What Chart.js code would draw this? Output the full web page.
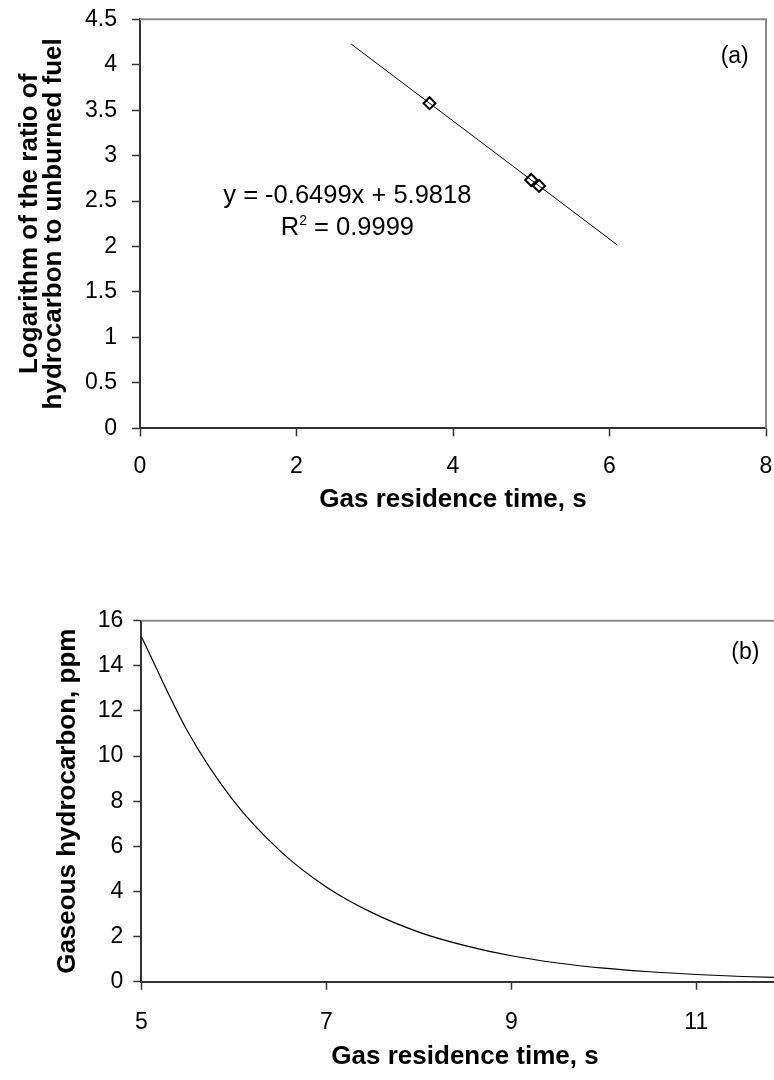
<!DOCTYPE html>
<html><head><meta charset="utf-8">
<script src="https://cdn.jsdelivr.net/npm/chart.js@4.4.1/dist/chart.umd.min.js"></script>
<style>
html,body{margin:0;padding:0;background:#fff;overflow:hidden;width:774px;height:1080px;}
#a{position:absolute;left:0;top:0;}
#b{position:absolute;left:0;top:540px;}
</style></head><body>
<canvas id="a" width="774" height="520"></canvas>
<canvas id="b" width="790" height="540"></canvas>
<script>
// ---- data (a) ----
const timeA = [3.7, 5.0, 5.1];
const logRatioA = [3.577, 2.732, 2.667];
const trendX = [2.7, 6.1];
const trendY = [4.227, 2.017];
const xTicksA = [0, 2, 4, 6, 8];
const yTicksA = [0, 0.5, 1, 1.5, 2, 2.5, 3, 3.5, 4, 4.5];
const eqText = 'y = -0.6499x + 5.9818';
const r2Value = '0.9999';
// ---- data (b) ----
const timeB = [5, 5.5, 6, 6.5, 7, 7.5, 8, 8.5, 9, 9.5, 10, 10.5, 11, 11.5, 12];
const hcB = [15.3, 11.1, 8.0, 5.8, 4.2, 3.05, 2.2, 1.6, 1.15, 0.83, 0.6, 0.44, 0.32, 0.23, 0.17];
const xTicksB = [5, 7, 9, 11];
const yTicksB = [0, 2, 4, 6, 8, 10, 12, 14, 16];

Chart.defaults.font.family = "'Liberation Sans', Arial, sans-serif";
Chart.defaults.color = '#000';
Chart.defaults.animation = false;

const FONT = "'Liberation Sans', Arial, sans-serif";

const frame = {
  id: 'frame',
  afterDraw(c) {
    const {ctx, chartArea: a} = c;
    ctx.save();
    ctx.strokeStyle = '#8a8a8a';
    ctx.lineWidth = 2;
    ctx.beginPath();
    ctx.moveTo(a.left, a.top);
    ctx.lineTo(a.right, a.top);
    ctx.lineTo(a.right, a.bottom);
    ctx.stroke();
    ctx.restore();
  }
};

const notes = {
  id: 'notes',
  afterDraw(c, args, o) {
    const {ctx} = c;
    const xs = c.scales.x, ys = c.scales.y;
    ctx.save();
    ctx.fillStyle = '#000';
    ctx.textBaseline = 'middle';
    (o.items || []).forEach(it => {
      const px = xs.getPixelForValue(it.x), py = ys.getPixelForValue(it.y);
      if (it.r2) {
        ctx.font = it.size + 'px ' + FONT;
        const wR = ctx.measureText('R').width;
        const rest = ' = ' + it.r2;
        const wRest = ctx.measureText(rest).width;
        ctx.font = it.supSize + 'px ' + FONT;
        const wS = ctx.measureText('2').width;
        let x0 = px - (wR + wS + wRest) / 2;
        ctx.textAlign = 'left';
        ctx.font = it.size + 'px ' + FONT;
        ctx.fillText('R', x0, py);
        ctx.font = it.supSize + 'px ' + FONT;
        ctx.fillText('2', x0 + wR, py - 7);
        ctx.font = it.size + 'px ' + FONT;
        ctx.fillText(rest, x0 + wR + wS, py);
      } else {
        ctx.textAlign = 'center';
        ctx.font = it.size + 'px ' + FONT;
        ctx.fillText(it.text, px, py);
      }
    });
    ctx.restore();
  }
};

function gridOpts() {
  return {drawOnChartArea: false, drawTicks: true, tickLength: 8, tickColor: '#333', tickWidth: 1.5, color: '#333'};
}
function borderOpts() {
  return {display: true, color: '#333', width: 2};
}
const plain = v => String(v);

// ---- chart (a) ----
new Chart(document.getElementById('a'), {
  type: 'scatter',
  data: {
    datasets: [
      {
        data: trendX.map((x, i) => ({x, y: trendY[i]})),
        showLine: true, borderColor: '#000', borderWidth: 1, pointRadius: 0, fill: false
      },
      {
        data: timeA.map((x, i) => ({x, y: logRatioA[i]})),
        pointStyle: 'rectRot', pointRadius: 6, pointBorderWidth: 2,
        pointBorderColor: '#000', pointBackgroundColor: '#fff', showLine: false
      }
    ]
  },
  options: {
    responsive: false,
    layout: {padding: {top: 19.3, right: 8, left: 0, bottom: 0}},
    plugins: {
      legend: {display: false}, tooltip: {enabled: false},
      notes: {items: [
        {text: '(a)', x: 7.6, y: 4.09, size: 23},
        {text: eqText, x: 2.65, y: 2.56, size: 25.5},
        {r2: r2Value, x: 2.65, y: 2.2, size: 25.5, supSize: 14}
      ]}
    },
    scales: {
      x: {
        type: 'linear', min: 0, max: 8,
        afterBuildTicks: s => { s.ticks = xTicksA.map(v => ({value: v})); },
        afterFit: s => { s.height = 91.7; s.paddingLeft = 0; s.paddingRight = 0; },
        grid: gridOpts(), border: borderOpts(),
        ticks: {color: '#000', font: {size: 23}, padding: 16.6, maxRotation: 0, autoSkip: false, callback: plain},
        title: {display: true, text: 'Gas residence time, s', color: '#000',
                font: {size: 26, weight: 'bold'}, padding: {top: 0, bottom: 4.4}}
      },
      y: {
        type: 'linear', min: 0, max: 4.5,
        afterBuildTicks: s => { s.ticks = yTicksA.map(v => ({value: v})); },
        afterFit: s => { s.width = 140; s.paddingTop = 0; s.paddingBottom = 0; },
        grid: gridOpts(), border: borderOpts(),
        ticks: {color: '#000', font: {size: 23}, padding: 15, autoSkip: false, callback: plain},
        title: {display: true, text: ['Logarithm of the ratio of', 'hydrocarbon to unburned fuel'], color: '#000',
                font: {size: 26, weight: 'bold', lineHeight: '24px'}, padding: {top: 18, bottom: 0}}
      }
    }
  },
  plugins: [frame, notes]
});

// ---- chart (b) ----
new Chart(document.getElementById('b'), {
  type: 'scatter',
  data: {
    datasets: [
      {
        data: timeB.map((x, i) => ({x, y: hcB[i]})),
        showLine: true, borderColor: '#000', borderWidth: 1.2, pointRadius: 0, fill: false,
        cubicInterpolationMode: 'monotone'
      }
    ]
  },
  options: {
    responsive: false,
    layout: {padding: {top: 80.7, right: 1.2, left: 0, bottom: 0}},
    plugins: {
      legend: {display: false}, tooltip: {enabled: false},
      notes: {items: [
        {text: '(b)', x: 11.53, y: 14.57, size: 23}
      ]}
    },
    scales: {
      x: {
        type: 'linear', min: 5, max: 12,
        afterBuildTicks: s => { s.ticks = xTicksB.map(v => ({value: v})); },
        afterFit: s => { s.height = 98.3; s.paddingLeft = 0; s.paddingRight = 0; },
        grid: gridOpts(), border: borderOpts(),
        ticks: {color: '#000', font: {size: 23}, padding: 19.2, maxRotation: 0, autoSkip: false, callback: plain},
        title: {display: true, text: 'Gas residence time, s', color: '#000',
                font: {size: 26, weight: 'bold'}, padding: {top: 0, bottom: 7.7}}
      },
      y: {
        type: 'linear', min: 0, max: 16,
        afterBuildTicks: s => { s.ticks = yTicksB.map(v => ({value: v})); },
        afterFit: s => { s.width = 141.3; s.paddingTop = 0; s.paddingBottom = 0; },
        grid: gridOpts(), border: borderOpts(),
        ticks: {color: '#000', font: {size: 23}, padding: 10, autoSkip: false, callback: plain},
        title: {display: true, text: 'Gaseous hydrocarbon, ppm', color: '#000',
                font: {size: 26, weight: 'bold', lineHeight: '24px'}, padding: {top: 56, bottom: 0}}
      }
    }
  },
  plugins: [frame, notes]
});
</script>
</body></html>
